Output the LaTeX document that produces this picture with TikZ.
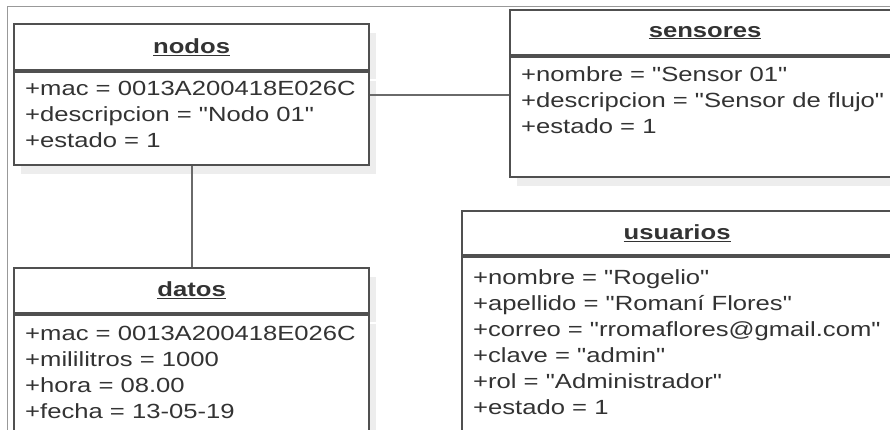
\documentclass[tikz,border=0pt]{standalone}
\usepackage{fontspec}
\setmainfont{Liberation Sans}[FakeStretch=1.25, Ligatures=TeXOff]
\usetikzlibrary{positioning,shadows}
\definecolor{boxline}{HTML}{505050}
\definecolor{linkline}{HTML}{6A6A6A}
\definecolor{txt}{HTML}{333333}
\begin{document}
\begin{tikzpicture}[
  x=1pt, y=-1pt,
  every node/.style = {font=\fontsize{20.5}{26}\selectfont, text=txt},
  shade/.style = {drop shadow={shadow xshift=7pt, shadow yshift=-9pt, opacity=0.07, fill=black}},
  head/.style = {draw=boxline, line width=2.2pt, fill=white, shade, anchor=north west,
                 inner sep=0pt, font=\fontsize{20.5}{26}\selectfont\bfseries},
  body/.style = {draw=boxline, line width=2.2pt, fill=white, shade, anchor=north,
                 inner sep=0pt},
  attr/.style = {align=left, inner sep=0pt},
  link/.style = {draw=linkline, line width=2pt},
]
  \useasboundingbox (0,0) rectangle (890,430);
  \clip (0,0) rectangle (890,430);
  % frame of the sheet
  \draw[gray!80, line width=1pt] (900,7) -- (7,7) -- (7,440);

  % nodos
  \node[head, minimum width=355pt, minimum height=46pt] (nodos) at (13,23) {\underline{nodos}};
  \node[body, minimum width=355pt, minimum height=93pt] (nodosattr) at (nodos.south) {};
  \node[attr, below right=10pt and 12pt of nodosattr.north west] (nodostxt) {%
    +mac = 0013A200418E026C\\%
    +descripcion = "Nodo 01"\\%
    +estado = 1%
  };

  % sensores
  \node[head, minimum width=390pt, minimum height=45pt] (sensores) at (509,9) {\underline{sensores}};
  \node[body, minimum width=390pt, minimum height=120pt] (sensattr) at (sensores.south) {};
  \node[attr, below right=10pt and 12pt of sensattr.north west] (senstxt) {%
    +nombre = "Sensor 01"\\%
    +descripcion = "Sensor de flujo"\\%
    +estado = 1%
  };

  % datos
  \node[head, minimum width=355pt, minimum height=45pt] (datos) at (13,267) {\underline{datos}};
  \node[body, minimum width=355pt, minimum height=150pt] (datosattr) at (datos.south) {};
  \node[attr, below right=12pt and 12pt of datosattr.north west] (datostxt) {%
    +mac = 0013A200418E026C\\%
    +mililitros = 1000\\%
    +hora = 08.00\\%
    +fecha = 13-05-19%
  };

  % usuarios
  \node[head, minimum width=430pt, minimum height=44pt] (usuarios) at (461,210) {\underline{usuarios}};
  \node[body, minimum width=430pt, minimum height=174pt] (usuattr) at (usuarios.south) {};
  \node[attr, below right=13pt and 12pt of usuattr.north west] (usutxt) {%
    +nombre = "Rogelio"\\%
    +apellido = "Romaní Flores"\\%
    +correo = "rromaflores@gmail.com"\\%
    +clave = "admin"\\%
    +rol = "Administrador"\\%
    +estado = 1%
  };

  % enlaces
  \draw[link] ([yshift=-24pt]nodosattr.north east) coordinate (n1) -- (n1 -| sensattr.west);
  \draw[link] (nodosattr.south) -- (datos.north);
\end{tikzpicture}
\end{document}
